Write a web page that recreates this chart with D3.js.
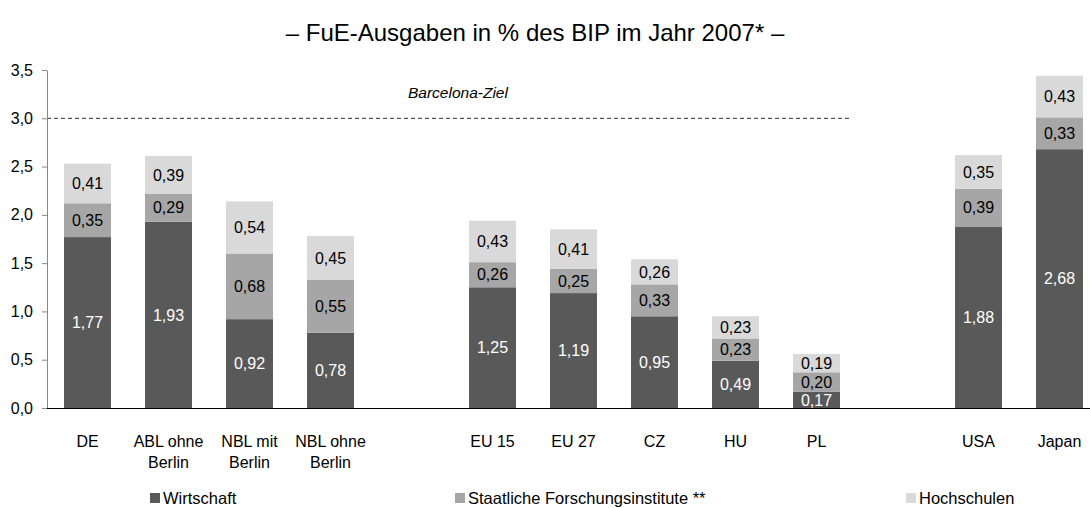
<!DOCTYPE html>
<html>
<head>
<meta charset="utf-8">
<script src="https://cdn.jsdelivr.net/npm/d3@7"></script>
<style>
  body { margin: 0; background: #fff; }
  svg { font-family: "Liberation Sans", Arial, sans-serif; }
</style>
</head>
<body>
<svg id="chart" width="1090" height="508"></svg>
<script>
// slots: empty strings are the gaps between groups
const categories = ["DE", "ABL ohne\nBerlin", "NBL mit\nBerlin", "NBL ohne\nBerlin", "",
  "EU 15", "EU 27", "CZ", "HU", "PL", "", "USA", "Japan"];
const wirtschaft = [1.77, 1.93, 0.92, 0.78, null, 1.25, 1.19, 0.95, 0.49, 0.17, null, 1.88, 2.68];
const staatlich = [0.35, 0.29, 0.68, 0.55, null, 0.26, 0.25, 0.33, 0.23, 0.20, null, 0.39, 0.33];
const hochschulen = [0.41, 0.39, 0.54, 0.45, null, 0.43, 0.41, 0.26, 0.23, 0.19, null, 0.35, 0.43];
const seriesNames = ["Wirtschaft", "Staatliche Forschungsinstitute **", "Hochschulen"];
const yTicks = [0, 0.5, 1.0, 1.5, 2.0, 2.5, 3.0, 3.5];
const target = 3.0;

const colors = ["#595959", "#a6a6a6", "#d9d9d9"];
const textColors = ["#fff", "#000", "#000"];
const fmt = v => d3.format(".2f")(v).replace(".", ",");

const svg = d3.select("#chart");
const plotLeft = 47, plotTop = 70, plotBottom = 408;

const slots = categories.map((c, i) => "s" + i);
const x = d3.scaleBand().domain(slots).range([plotLeft, plotLeft + 13 * 81]).paddingInner(0.42).paddingOuter(0.21);
const y = d3.scaleLinear().domain([0, 3.5]).range([plotBottom, plotTop]);

// title
svg.append("text")
  .attr("x", 535).attr("y", 41)
  .attr("text-anchor", "middle")
  .style("font-size", "24px")
  .text("– FuE-Ausgaben in % des BIP im Jahr 2007* –");

// stacked data
const rows = categories.map((c, i) => ({ key: slots[i], w: wirtschaft[i], s: staatlich[i], h: hochschulen[i] }))
  .filter(d => d.w !== null);
const stack = d3.stack().keys(["w", "s", "h"]);
const stacked = stack(rows);

const layers = svg.append("g").selectAll("g")
  .data(stacked)
  .enter().append("g");

layers.selectAll("rect")
  .data(d => d.map(p => ({ p, i: d.index })))
  .enter().append("rect")
  .attr("x", d => x(d.p.data.key))
  .attr("width", x.bandwidth())
  .attr("y", d => y(d.p[1]))
  .attr("height", d => y(d.p[0]) - y(d.p[1]))
  .attr("fill", d => colors[d.i]);

layers.selectAll("text")
  .data(d => d.map(p => ({ p, i: d.index })))
  .enter().append("text")
  .attr("x", d => x(d.p.data.key) + x.bandwidth() / 2)
  .attr("y", d => (y(d.p[0]) + y(d.p[1])) / 2)
  .attr("dy", "0.36em")
  .attr("text-anchor", "middle")
  .style("font-size", "16px")
  .attr("fill", d => textColors[d.i])
  .text(d => fmt(d.p[1] - d.p[0]));

// target line
svg.append("line")
  .attr("x1", plotLeft).attr("x2", 852)
  .attr("y1", y(target)).attr("y2", y(target))
  .attr("stroke", "#555").attr("stroke-width", 1.2)
  .attr("stroke-dasharray", "4,3");
svg.append("text")
  .attr("x", 408).attr("y", y(target) - 20)
  .style("font-size", "15.5px").style("font-style", "italic")
  .text("Barcelona-Ziel");

// y axis
const yAxis = svg.append("g")
  .attr("transform", `translate(${plotLeft},0)`)
  .call(d3.axisLeft(y).tickValues(yTicks).tickSize(5).tickSizeOuter(0)
    .tickFormat(v => d3.format(".1f")(v).replace(".", ",")));
yAxis.attr("font-family", null);
yAxis.select(".domain").attr("stroke", "#888");
yAxis.selectAll(".tick line").attr("stroke", "#888");
yAxis.selectAll("text").style("font-size", "16px").attr("fill", "#000").attr("x", -14);

// x axis line
svg.append("line")
  .attr("x1", plotLeft).attr("x2", 1090)
  .attr("y1", plotBottom + 0.5).attr("y2", plotBottom + 0.5)
  .attr("stroke", "#000");

// category labels
const catLabels = svg.append("g").selectAll("text")
  .data(categories.map((c, i) => ({ c, key: slots[i] })).filter(d => d.c))
  .enter().append("text")
  .attr("x", d => x(d.key) + x.bandwidth() / 2)
  .attr("y", 447)
  .attr("text-anchor", "middle")
  .style("font-size", "16px");
catLabels.selectAll("tspan")
  .data(d => d.c.split("\n"))
  .enter().append("tspan")
  .attr("x", function () { return d3.select(this.parentNode).attr("x"); })
  .attr("dy", (d, i) => i === 0 ? 0 : 21)
  .text(d => d);

// legend
const legendX = [150, 455, 906];
const legend = svg.append("g").selectAll("g")
  .data(seriesNames)
  .enter().append("g")
  .attr("transform", (d, i) => `translate(${legendX[i]},504)`);
legend.append("rect")
  .attr("x", 0).attr("y", -11).attr("width", 10).attr("height", 10)
  .attr("fill", (d, i) => colors[i]);
legend.append("text")
  .attr("x", 13).attr("y", 0)
  .style("font-size", "16.5px")
  .text(d => d);
</script>
</body>
</html>
